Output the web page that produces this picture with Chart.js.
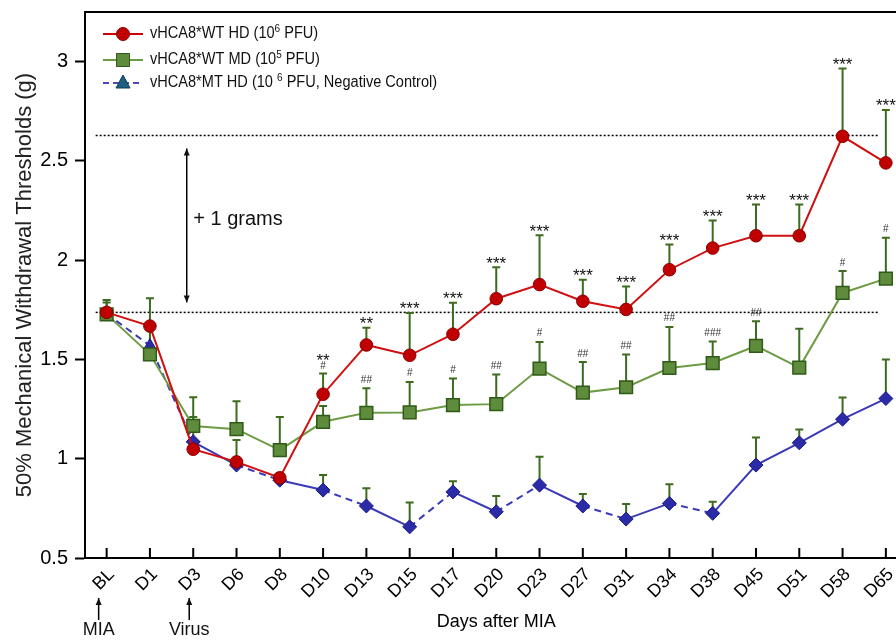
<!DOCTYPE html>
<html>
<head>
<meta charset="utf-8">
<script src="https://cdn.jsdelivr.net/npm/chart.js@4/dist/chart.umd.min.js"></script>
<style>
  html, body { margin: 0; padding: 0; background: #fff; overflow: hidden; }
  #wrap { width: 918px; height: 640px; }
</style>
</head>
<body>
<div id="wrap"><canvas id="chart" width="918" height="640"></canvas></div>
<script>
// categories
const days = ['BL', 'D1', 'D3', 'D6', 'D8', 'D10', 'D13', 'D15', 'D17', 'D20',
              'D23', 'D27', 'D31', 'D34', 'D38', 'D45', 'D51', 'D58', 'D65'];

// vHCA8*WT HD (10^6 PFU)
const wtHd = [1.737, 1.668, 1.048, 0.984, 0.904, 1.325, 1.573, 1.521, 1.627, 1.806,
              1.877, 1.793, 1.752, 1.952, 2.061, 2.123, 2.123, 2.624, 2.490];
const wtHdErr = [0.05, null, null, 0.11, null, 0.104, 0.087, 0.213, 0.159, 0.159,
                 0.248, 0.109, 0.116, 0.127, 0.139, 0.157, 0.157, 0.342, 0.267];

// vHCA8*WT MD (10^5 PFU)
const wtMd = [1.727, 1.526, 1.165, 1.149, 1.043, 1.186, 1.231, 1.233, 1.270, 1.275,
              1.454, 1.333, 1.360, 1.457, 1.482, 1.568, 1.459, 1.835, 1.907];
const wtMdErr = [0.073, 0.282, 0.145, 0.141, 0.167, 0.080, 0.124, 0.154, 0.134, 0.149,
                 0.134, 0.154, 0.165, 0.207, 0.108, 0.124, 0.196, 0.110, 0.206];

// vHCA8*MT HD (10^6 PFU, negative control)
const mtHd = [1.730, 1.570, 1.085, 0.968, 0.892, 0.842, 0.762, 0.657, 0.833, 0.733,
              0.867, 0.762, 0.696, 0.775, 0.725, 0.968, 1.080, 1.199, 1.303];
const mtHdErr = [null, null, 0.125, null, null, 0.076, 0.089, 0.123, 0.054, 0.079,
                 0.143, 0.060, 0.076, 0.096, 0.058, 0.139, 0.067, 0.109, 0.197];

// significance marks
const wtHdStars = ['', '', '', '', '', '**', '**', '***', '***', '***',
                   '***', '***', '***', '***', '***', '***', '***', '***', '***'];
const wtMdHash = ['', '', '', '', '', '#', '##', '#', '#', '##',
                  '#', '##', '##', '##', '###', '##', '', '#', '#'];

// baseline and baseline + 1 g reference lines
const refLines = [1.737, 2.628];

const yTicks = [0.5, 1, 1.5, 2, 2.5, 3];

const FONT = "'Liberation Sans', Arial, Helvetica, sans-serif";
const ERR_COLOR = '#3d6b1f';
const dashedSegs = [0, 1, 3, 5, 7, 9, 11, 13];

const errorBars = {
    id: 'errorBars',
    beforeDatasetsDraw(chart) {
        const { ctx, scales: { x, y } } = chart;
        ctx.save();

        // dotted reference lines
        ctx.strokeStyle = '#000';
        ctx.lineWidth = 1.5;
        ctx.setLineDash([2, 2]);
        refLines.forEach(v => {
            const py = y.getPixelForValue(v);
            ctx.beginPath();
            ctx.moveTo(x.getPixelForValue(0) - 11, py);
            ctx.lineTo(x.getPixelForValue(days.length - 1) - 8, py);
            ctx.stroke();
        });
        ctx.setLineDash([]);

        // one-sided (upper) error bars
        ctx.strokeStyle = ERR_COLOR;
        ctx.lineWidth = 2;
        [[wtHd, wtHdErr], [wtMd, wtMdErr], [mtHd, mtHdErr]].forEach(([vals, errs]) => {
            errs.forEach((e, j) => {
                if (e == null) return;
                const px = x.getPixelForValue(j);
                const y0 = y.getPixelForValue(vals[j]);
                const y1 = y.getPixelForValue(vals[j] + e);
                ctx.beginPath();
                ctx.moveTo(px, y0);
                ctx.lineTo(px, y1);
                ctx.moveTo(px - 4, y1);
                ctx.lineTo(px + 4, y1);
                ctx.stroke();
            });
        });
        ctx.restore();
    }
};

function arrow(ctx, x, y0, y1, both) {
    ctx.beginPath();
    ctx.moveTo(x, y0);
    ctx.lineTo(x, y1);
    ctx.stroke();
    const head = (yy, dir) => {
        ctx.beginPath();
        ctx.moveTo(x, yy);
        ctx.lineTo(x - 3, yy + dir * 7);
        ctx.lineTo(x + 3, yy + dir * 7);
        ctx.closePath();
        ctx.fill();
    };
    head(y0, 1);
    if (both) head(y1, -1);
}

function legendText(ctx, x, y, parts) {
    ctx.save();
    ctx.translate(x, y);
    ctx.scale(0.91, 1);
    let cx = 0;
    parts.forEach((p, k) => {
        const sup = k % 2 === 1;
        ctx.font = (sup ? '11px ' : '16px ') + FONT;
        ctx.fillText(p, cx, sup ? -5 : 0);
        cx += ctx.measureText(p).width;
    });
    ctx.restore();
}

const extras = {
    id: 'extras',
    afterDatasetsDraw(chart) {
        const { ctx, chartArea: area, scales: { x, y } } = chart;
        ctx.save();
        ctx.fillStyle = '#000';
        ctx.strokeStyle = '#000';

        // top frame line
        ctx.lineWidth = 2;
        ctx.beginPath();
        ctx.moveTo(area.left - 1, area.top);
        ctx.lineTo(area.right + 10, area.top);
        ctx.stroke();

        // inward x ticks
        days.forEach((d, j) => {
            const px = x.getPixelForValue(j);
            ctx.beginPath();
            ctx.moveTo(px, area.bottom);
            ctx.lineTo(px, area.bottom - 10);
            ctx.stroke();
        });

        // significance marks
        ctx.textAlign = 'center';
        ctx.textBaseline = 'alphabetic';
        days.forEach((d, j) => {
            const px = x.getPixelForValue(j);
            const redTop = y.getPixelForValue(wtHd[j] + (wtHdErr[j] || 0));
            const redPt = y.getPixelForValue(wtHd[j]);
            let starY = redTop - 8;
            if (wtMdHash[j]) {
                let hy = y.getPixelForValue(wtMd[j] + wtMdErr[j]) - 9;
                if (hy > redTop - 16 && hy < redPt + 12) {
                    hy = redTop - 8;
                    starY = redTop - 17;
                }
                ctx.fillStyle = '#333';
                ctx.font = '10px ' + FONT;
                ctx.fillText(wtMdHash[j], px, hy + 3.5);
            }
            if (wtHdStars[j]) {
                ctx.fillStyle = '#111';
                ctx.font = '17px ' + FONT;
                ctx.fillText(wtHdStars[j], px, starY + 9.5);
            }
        });

        // + 1 grams
        ctx.lineWidth = 1.5;
        const ax = x.getPixelForValue(1.85);
        arrow(ctx, ax, y.getPixelForValue(refLines[1]) + 13, y.getPixelForValue(refLines[0]) - 10, true);
        ctx.font = '20px ' + FONT;
        ctx.textAlign = 'left';
        ctx.textBaseline = 'middle';
        ctx.fillText('+ 1 grams', x.getPixelForValue(2), y.getPixelForValue((refLines[0] + refLines[1]) / 2) - 4);

        // MIA / Virus markers under the axis
        ctx.lineWidth = 1.5;
        ctx.font = '18px ' + FONT;
        ctx.textAlign = 'center';
        [[0, 'MIA', -8], [2, 'Virus', -4]].forEach(([j, t, dx]) => {
            const px = x.getPixelForValue(j) + dx;
            arrow(ctx, px, 598, 620, false);
            ctx.fillText(t, px, 630);
        });

        // legend
        const rows = [
            { y: 34, color: '#cc0000', dash: [], parts: ['vHCA8*WT HD (10', '6', ' PFU)'] },
            { y: 60, color: '#6e9c45', dash: [], parts: ['vHCA8*WT MD (10', '5', ' PFU)'] },
            { y: 83, color: '#4a4ac0', dash: [6, 4], parts: ['vHCA8*MT HD (10 ', '6', ' PFU, Negative Control)'] }
        ];
        rows.forEach((r, k) => {
            ctx.strokeStyle = r.color;
            ctx.lineWidth = 2;
            ctx.setLineDash(r.dash);
            ctx.beginPath();
            ctx.moveTo(103, r.y);
            ctx.lineTo(143, r.y);
            ctx.stroke();
            ctx.setLineDash([]);
            ctx.lineWidth = 1;
            ctx.beginPath();
            if (k === 0) {
                ctx.fillStyle = '#c00000';
                ctx.strokeStyle = '#8a0000';
                ctx.arc(123, r.y, 6.5, 0, Math.PI * 2);
            } else if (k === 1) {
                ctx.fillStyle = '#5e8c3c';
                ctx.strokeStyle = '#2f5a17';
                ctx.rect(116.5, r.y - 6.5, 13, 13);
            } else {
                ctx.fillStyle = '#1d5f7c';
                ctx.strokeStyle = '#0f3f5f';
                ctx.moveTo(123, r.y - 8);
                ctx.lineTo(130, r.y + 5);
                ctx.lineTo(116, r.y + 5);
                ctx.closePath();
            }
            ctx.fill();
            ctx.stroke();
            ctx.fillStyle = '#111';
            ctx.textAlign = 'left';
            ctx.textBaseline = 'middle';
            legendText(ctx, 150, r.y, r.parts);
        });
        ctx.restore();
    }
};

function noPad(s) {
    s.paddingTop = 0;
    s.paddingBottom = 0;
    s.paddingLeft = 0;
    s.paddingRight = 0;
}

new Chart(document.getElementById('chart'), {
    type: 'line',
    data: {
        labels: days,
        datasets: [
            {
                label: 'vHCA8*WT HD (10⁶ PFU)',
                data: wtHd,
                borderColor: '#d01010',
                borderWidth: 2,
                pointStyle: 'circle',
                pointRadius: 6.3,
                pointBackgroundColor: '#c00000',
                pointBorderColor: '#8a0000',
                pointBorderWidth: 1,
                tension: 0
            },
            {
                label: 'vHCA8*WT MD (10⁵ PFU)',
                data: wtMd,
                borderColor: '#6e9c45',
                borderWidth: 2,
                pointStyle: 'rect',
                pointRadius: 9,
                pointBackgroundColor: '#5e8c3c',
                pointBorderColor: '#2f5a17',
                pointBorderWidth: 1.5,
                tension: 0
            },
            {
                label: 'vHCA8*MT HD (10⁶ PFU, Negative Control)',
                data: mtHd,
                borderColor: '#3a3ab8',
                borderWidth: 2,
                pointStyle: days.map((d, j) => j < 2 ? 'triangle' : 'rectRot'),
                pointRadius: 7,
                pointBackgroundColor: '#2b2ba8',
                pointBorderColor: '#1a1a80',
                pointBorderWidth: 1,
                tension: 0,
                segment: {
                    borderDash: c => dashedSegs.includes(c.p0DataIndex) ? [7, 5] : undefined
                }
            }
        ]
    },
    options: {
        responsive: false,
        animation: false,
        layout: { padding: { left: 0, top: 12, right: 5, bottom: 0 } },
        plugins: {
            legend: { display: false },
            tooltip: { enabled: false }
        },
        scales: {
            x: {
                offset: true,
                grid: { display: false, drawTicks: false },
                border: { display: true, color: '#000', width: 2 },
                ticks: {
                    color: '#000',
                    font: { family: FONT, size: 18 },
                    minRotation: 45,
                    maxRotation: 45,
                    padding: 6,
                    labelOffset: 5,
                    autoSkip: false
                },
                title: {
                    display: true,
                    text: 'Days after MIA',
                    color: '#000',
                    font: { family: FONT, size: 18 },
                    padding: { top: 0, bottom: 7 }
                },
                afterFit: s => { s.height = 82; noPad(s); }
            },
            y: {
                min: 0.5,
                max: 3.25,
                grid: {
                    display: true,
                    drawOnChartArea: false,
                    drawTicks: true,
                    tickLength: 10,
                    tickWidth: 2,
                    tickColor: '#000'
                },
                border: { display: true, color: '#000', width: 2 },
                afterBuildTicks: s => { s.ticks = yTicks.map(v => ({ value: v })); },
                ticks: {
                    color: '#000',
                    font: { family: FONT, size: 20 },
                    padding: 7,
                    callback: v => String(v)
                },
                title: {
                    display: true,
                    text: '50% Mechanical Withdrawal Thresholds (g)',
                    color: '#222',
                    font: { family: FONT, size: 22 },
                    padding: { top: 12, bottom: 0 }
                },
                afterFit: s => { s.width = 85; noPad(s); }
            }
        }
    },
    plugins: [errorBars, extras]
});
</script>
</body>
</html>
